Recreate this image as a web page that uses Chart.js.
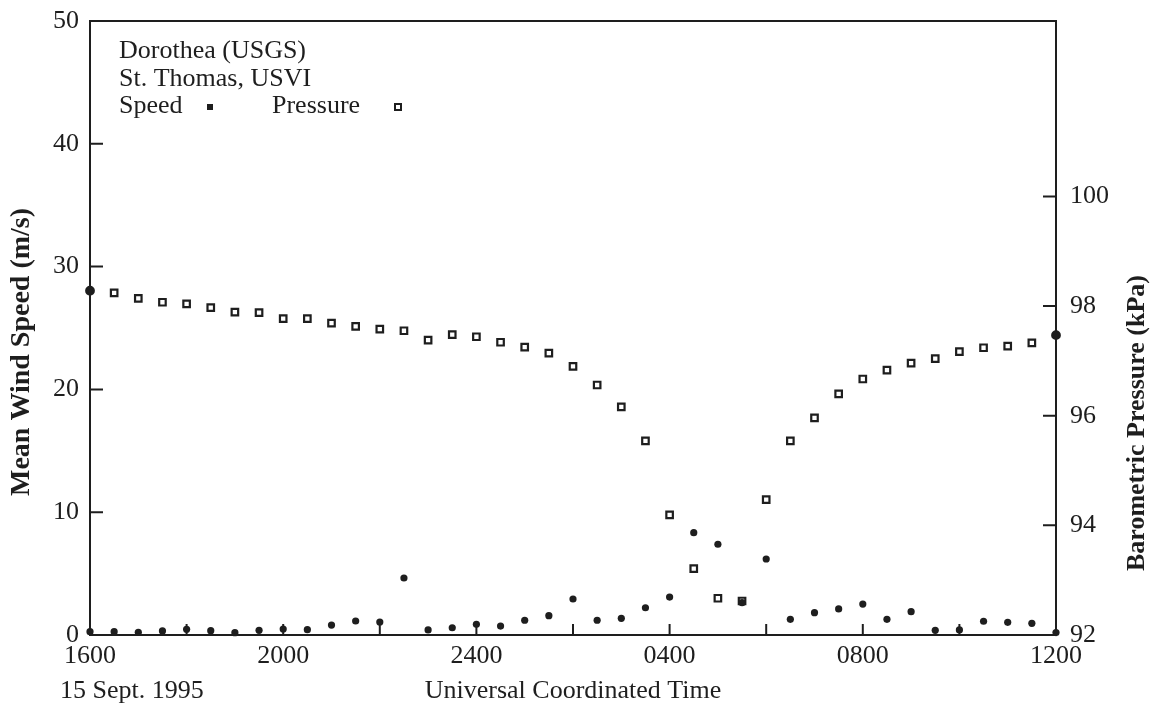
<!DOCTYPE html>
<html>
<head>
<meta charset="utf-8">
<script src="https://cdn.jsdelivr.net/npm/chart.js@4.4.1/dist/chart.umd.min.js"></script>
<style>
  html, body { margin: 0; padding: 0; background: #fff; }
  #wrap { width: 1163px; height: 709px; }
</style>
</head>
<body>
<div id="wrap"><canvas id="c" width="1163" height="709"></canvas></div>
<script>
// Hours after 1600 UTC, 15 Sept. 1995 (one reading every 30 minutes)
const hours = [0,0.5,1,1.5,2,2.5,3,3.5,4,4.5,5,5.5,6,6.5,7,7.5,8,8.5,9,9.5,10,
               10.5,11,11.5,12,12.5,13,13.5,14,14.5,15,15.5,16,16.5,17,17.5,18,18.5,19,19.5,20];
// Mean wind speed (m/s)
const speed = [0.27,0.27,0.22,0.33,0.46,0.35,0.19,0.38,0.49,0.43,0.81,1.14,1.06,4.64,0.41,0.59,0.87,0.73,1.20,1.57,2.93,
               1.20,1.36,2.22,3.09,8.33,7.39,2.63,6.19,1.28,1.82,2.12,2.52,1.28,1.90,0.38,0.41,1.12,1.03,0.95,0.20];
// Barometric pressure (kPa)
const pressure = [98.28,98.24,98.14,98.07,98.04,97.97,97.89,97.88,97.77,97.77,97.69,97.63,97.58,97.55,97.38,97.48,97.44,97.34,97.25,97.14,96.90,
                  96.56,96.16,95.54,94.19,93.21,92.67,92.62,94.47,95.54,95.96,96.40,96.67,96.83,96.96,97.04,97.17,97.24,97.27,97.33,97.47];
// Axis tick values / labels
const timeTickHours = [0,4,8,12,16,20];
const timeTickLabels = ['1600','2000','2400','0400','0800','1200'];
const timeMinorHours = [2,6,10,14,18];
const speedTicks = [0,10,20,30,40,50];
const pressureTicks = [92,94,96,98,100];

const INK = '#1e1e1e';
const FONT = '"Liberation Serif", "Times New Roman", serif';

const speedData = hours.map((h, i) => ({x: h, y: speed[i]}));
const pressureData = hours.map((h, i) => ({x: h, y: pressure[i]}));
const lastIdx = hours.length - 1;

const decor = {
  id: 'decor',
  afterDraw(chart) {
    const ctx = chart.ctx;
    const a = chart.chartArea;
    const xs = chart.scales.x, yl = chart.scales.y, yr = chart.scales.y1;
    ctx.save();
    ctx.strokeStyle = INK;
    ctx.lineWidth = 2;
    // frame
    ctx.strokeRect(a.left, a.top, a.right - a.left, a.bottom - a.top);
    // inward ticks
    ctx.beginPath();
    speedTicks.forEach(v => {
      if (v === 0 || v === 50) return;
      const y = yl.getPixelForValue(v);
      ctx.moveTo(a.left, y); ctx.lineTo(a.left + 13, y);
    });
    pressureTicks.forEach(v => {
      if (v === 92) return;
      const y = yr.getPixelForValue(v);
      ctx.moveTo(a.right, y); ctx.lineTo(a.right - 13, y);
    });
    timeTickHours.concat(timeMinorHours).forEach(h => {
      if (h === 0 || h === 20) return;
      const x = xs.getPixelForValue(h);
      ctx.moveTo(x, a.bottom); ctx.lineTo(x, a.bottom - 11);
    });
    ctx.stroke();

    // text block
    ctx.fillStyle = INK;
    ctx.font = '26px ' + FONT;
    ctx.textAlign = 'left';
    ctx.textBaseline = 'alphabetic';
    ctx.fillText('Dorothea (USGS)', 119, 58);
    ctx.fillText('St. Thomas, USVI', 119, 86);
    ctx.fillText('Speed', 119, 113);
    ctx.fillText('Pressure', 272, 113);
    // legend markers
    ctx.fillRect(207, 104, 6, 6);
    ctx.lineWidth = 2;
    ctx.strokeRect(395, 104, 6, 6);

    // bottom texts
    ctx.fillText('15 Sept. 1995', 60, 698);
    ctx.textAlign = 'center';
    ctx.fillText('Universal Coordinated Time', (a.left + a.right) / 2, 698);

    // axis titles
    ctx.textBaseline = 'middle';
    ctx.font = 'bold 28px ' + FONT;
    ctx.save();
    ctx.translate(22, 352);
    ctx.rotate(-Math.PI / 2);
    ctx.fillText('Mean Wind Speed (m/s)', 0, 0);
    ctx.restore();
    ctx.font = 'bold 26px ' + FONT;
    ctx.save();
    ctx.translate(1137, 423);
    ctx.rotate(-Math.PI / 2);
    ctx.fillText('Barometric Pressure (kPa)', 0, 0);
    ctx.restore();
    ctx.restore();
  }
};

new Chart(document.getElementById('c'), {
  type: 'scatter',
  data: {
    datasets: [
      {
        label: 'Speed',
        data: speedData,
        yAxisID: 'y',
        pointStyle: 'circle',
        pointRadius: 3.6,
        pointBorderWidth: 0,
        backgroundColor: INK,
        borderColor: INK,
        clip: false
      },
      {
        label: 'Pressure',
        data: pressureData,
        yAxisID: 'y1',
        pointStyle: ctx => (ctx.dataIndex === 0 || ctx.dataIndex === lastIdx) ? 'circle' : 'rect',
        pointRadius: ctx => (ctx.dataIndex === 0 || ctx.dataIndex === lastIdx) ? 3.8 : 4.6,
        pointBorderWidth: 2.2,
        backgroundColor: ctx => (ctx.dataIndex === 0 || ctx.dataIndex === lastIdx) ? INK : '#fff',
        borderColor: INK,
        clip: false
      }
    ]
  },
  options: {
    responsive: false,
    animation: false,
    devicePixelRatio: 1,
    layout: { padding: { top: 21, left: 0, right: 0, bottom: 0 } },
    plugins: { legend: { display: false }, tooltip: { enabled: false } },
    scales: {
      x: {
        type: 'linear',
        min: 0, max: 20,
        afterBuildTicks: s => { s.ticks = timeTickHours.map(v => ({value: v})); },
        afterFit: s => { s.height = 74; s.paddingLeft = 0; s.paddingRight = 0; },
        grid: { display: false, drawTicks: false },
        border: { display: false },
        ticks: {
          padding: 6,
          maxRotation: 0,
          color: INK,
          font: { family: FONT, size: 26 },
          callback: v => timeTickLabels[timeTickHours.indexOf(v)]
        }
      },
      y: {
        position: 'left',
        min: 0, max: 50,
        afterBuildTicks: s => { s.ticks = speedTicks.map(v => ({value: v})); },
        afterFit: s => { s.width = 90; s.paddingTop = 0; s.paddingBottom = 0; },
        grid: { display: false, drawTicks: false },
        border: { display: false },
        ticks: { padding: 11, color: INK, font: { family: FONT, size: 26 } }
      },
      y1: {
        position: 'right',
        min: 92, max: 103.2,
        afterBuildTicks: s => { s.ticks = pressureTicks.map(v => ({value: v})); },
        afterFit: s => { s.width = 107; s.paddingTop = 0; s.paddingBottom = 0; },
        grid: { display: false, drawTicks: false },
        border: { display: false },
        ticks: { padding: 14, color: INK, font: { family: FONT, size: 26 } }
      }
    }
  },
  plugins: [decor]
});
</script>
</body>
</html>
